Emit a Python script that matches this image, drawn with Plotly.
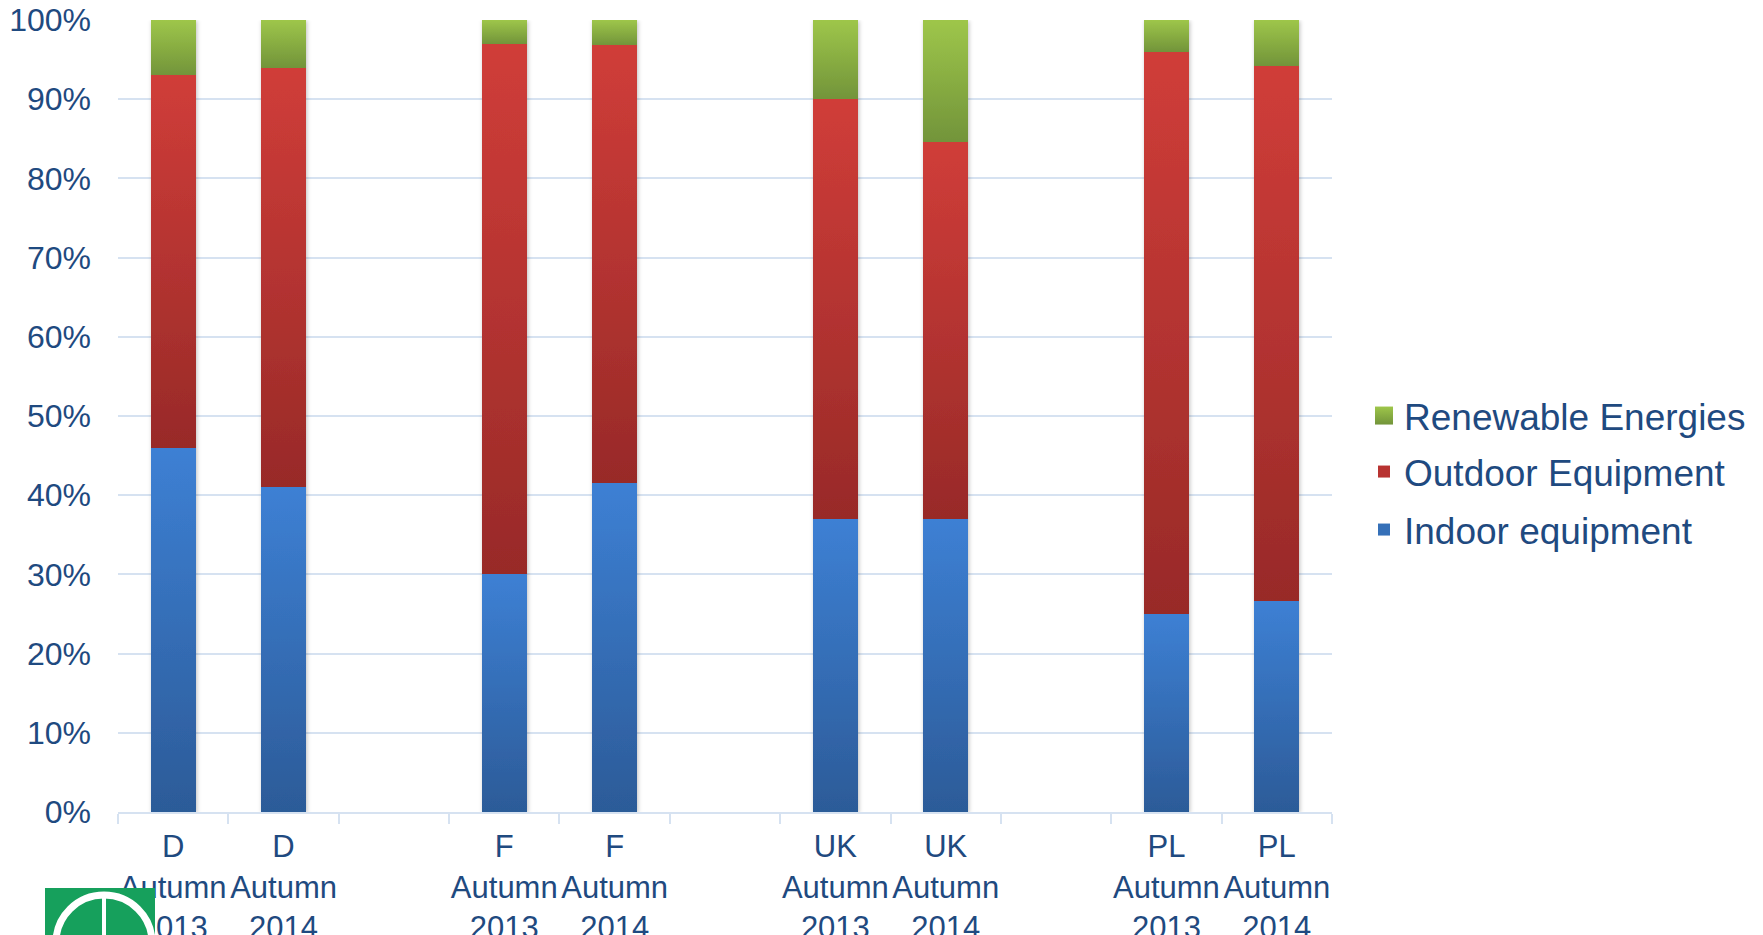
import plotly.graph_objects as go

# ---- data ----
categories = ["D<br>Autumn<br>2013", "D<br>Autumn<br>2014", " ",
              "F<br>Autumn<br>2013", "F<br>Autumn<br>2014", "  ",
              "UK<br>Autumn<br>2013", "UK<br>Autumn<br>2014", "   ",
              "PL<br>Autumn<br>2013", "PL<br>Autumn<br>2014"]
indoor = [0.46, 0.41, None, 0.30, 0.415, None, 0.37, 0.37, None, 0.25, 0.266]
outdoor = [0.47, 0.53, None, 0.67, 0.553, None, 0.53, 0.476, None, 0.71, 0.676]
renewable = [0.07, 0.06, None, 0.03, 0.032, None, 0.10, 0.154, None, 0.04, 0.058]
series_names = ["Indoor equipment", "Outdoor Equipment", "Renewable Energies"]
y_ticks = [0, 0.1, 0.2, 0.3, 0.4, 0.5, 0.6, 0.7, 0.8, 0.9, 1.0]

TEXT = "#1F4A80"
GRID = "#D6E2F1"
FONT = "Liberation Sans, Arial, sans-serif"

fig = go.Figure()
series = [indoor, outdoor, renewable]
colors = ["#3570B8", "#B83331", "#8AB042"]
legend_ids = ["legend3", "legend2", "legend"]
for name, vals, col, lg in zip(series_names, series, colors, legend_ids):
    fig.add_trace(go.Bar(x=categories, y=vals, name=name, marker_color=col,
                         marker_line_width=0, legend=lg))

W, H = 1763, 935
L, R, T, B = 118, 431, 20, 123
pw, ph = W - L - R, H - T - B

def lx(px):
    return (px - L) / pw

def ly(py):
    return (H - B - py) / ph

leg_common = dict(xanchor="left", yanchor="middle", bgcolor="rgba(0,0,0,0)",
                  font=dict(size=37, color=TEXT, family=FONT))
fig.update_layout(
    width=W, height=H,
    margin=dict(l=L, r=R, t=T, b=B, autoexpand=False),
    barmode="stack", bargap=0.59,
    plot_bgcolor="white", paper_bgcolor="white",
    font=dict(family=FONT, color=TEXT),
    showlegend=True,
    legend=dict(x=lx(1364), y=ly(416), **leg_common),
    legend2=dict(x=lx(1364), y=ly(472), **leg_common),
    legend3=dict(x=lx(1364), y=ly(530), **leg_common),
    xaxis=dict(type="category", categoryorder="array", categoryarray=categories,
               showline=True, linecolor=GRID, linewidth=2,
               ticks="outside", tickson="boundaries", ticklen=10, tickcolor=GRID,
               tickwidth=2, showgrid=False, automargin=False, tickangle=0,
               ticklabelstandoff=6,
               tickfont=dict(size=31, color=TEXT, family=FONT)),
    yaxis=dict(range=[0, 1.0], tickvals=y_ticks, tickformat=".0%",
               showgrid=True, gridcolor=GRID, gridwidth=2, zeroline=False,
               showline=False, ticks="", ticklabelstandoff=26, automargin=False,
               tickfont=dict(size=32, color=TEXT, family=FONT)),
)

# logo placeholder (green square with white ring), bottom-left
fig.add_shape(type="rect", xref="paper", yref="paper",
              x0=lx(45), x1=lx(155), y0=ly(935), y1=ly(888),
              fillcolor="#16A05C", line_width=0, layer="above")
fig.add_shape(type="circle", xref="paper", yref="paper",
              x0=lx(56), x1=lx(152), y0=ly(990), y1=ly(895),
              fillcolor="rgba(0,0,0,0)", line=dict(color="white", width=7), layer="above")
fig.add_shape(type="line", xref="paper", yref="paper",
              x0=lx(104), x1=lx(104), y0=ly(935), y1=ly(895),
              line=dict(color="white", width=4), layer="above")

post = """
var gd = document.getElementById('{plot_id}');
function applyGrad(){
  var svg = gd.querySelector('svg.main-svg');
  if(!svg) return;
  var NS='http://www.w3.org/2000/svg';
  var defs = svg.querySelector('defs');
  if(!defs){defs=document.createElementNS(NS,'defs'); svg.insertBefore(defs, svg.firstChild);}
  var grads = [['#3D80D4','#2C5B98'],['#D03D39','#982A28'],['#9EC64A','#72943A']];
  grads.forEach(function(g,i){
    if(document.getElementById('bg'+i)) return;
    var lg=document.createElementNS(NS,'linearGradient');
    lg.setAttribute('id','bg'+i); lg.setAttribute('x1','0'); lg.setAttribute('y1','0');
    lg.setAttribute('x2','0'); lg.setAttribute('y2','1');
    [[0,g[0]],[1,g[1]]].forEach(function(s){
      var st=document.createElementNS(NS,'stop');
      st.setAttribute('offset',s[0]); st.setAttribute('stop-color',s[1]);
      lg.appendChild(st);
    });
    defs.appendChild(lg);
  });
  if(!document.getElementById('barshadow')){
    var f=document.createElementNS(NS,'filter');
    f.setAttribute('id','barshadow'); f.setAttribute('x','-30%'); f.setAttribute('y','-5%');
    f.setAttribute('width','160%'); f.setAttribute('height','110%');
    var ds=document.createElementNS(NS,'feDropShadow');
    ds.setAttribute('dx','1'); ds.setAttribute('dy','1'); ds.setAttribute('stdDeviation','2');
    ds.setAttribute('flood-opacity','0.25');
    f.appendChild(ds); defs.appendChild(f);
  }
  gd.querySelectorAll('.barlayer .trace').forEach(function(t,i){
    t.querySelectorAll('path').forEach(function(p){ p.style.fill='url(#bg'+i+')'; });
  });
  var bl = gd.querySelector('.barlayer');
  if(bl) bl.setAttribute('filter','url(#barshadow)');
  var map = {'Indoor equipment':0,'Outdoor Equipment':1,'Renewable Energies':2};
  gd.querySelectorAll('.legend .traces').forEach(function(tr){
    var txt = tr.querySelector('.legendtext');
    if(!txt) return;
    var i = map[txt.textContent];
    if(i===undefined) return;
    tr.querySelectorAll('.legendpoints path').forEach(function(p){
      p.style.fill='url(#bg'+i+')';
      p.setAttribute('d','M9,9H-9V-9H9Z');
    });
  });
}
applyGrad();
gd.on('plotly_afterplot', applyGrad);
"""

fig.write_html("out.html", post_script=post)
